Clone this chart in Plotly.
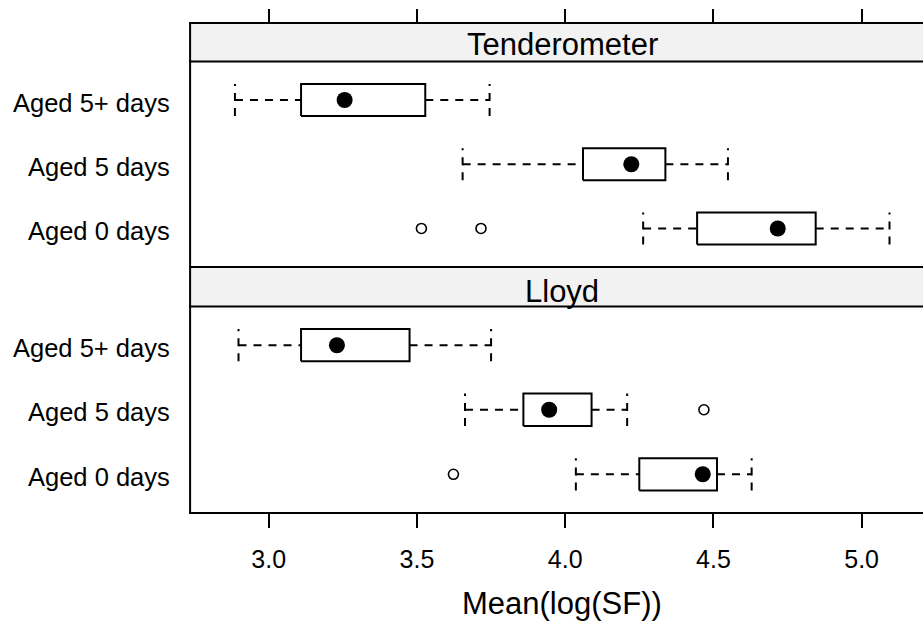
import plotly.graph_objects as go

# ---------------- data ----------------
levels = ["Aged 0 days", "Aged 5 days", "Aged 5+ days"]   # bottom -> top
panels = ["Tenderometer", "Lloyd"]                          # top -> bottom

tend_lower = [4.263, 3.654, 2.886]
tend_q1 = [4.445, 4.060, 3.109]
tend_median = [4.717, 4.223, 3.256]
tend_q3 = [4.845, 4.338, 3.528]
tend_upper = [5.094, 4.549, 3.745]
tend_outliers = [[3.515, 3.716], [], []]

lloyd_lower = [4.036, 3.662, 2.898]
lloyd_q1 = [4.250, 3.859, 3.109]
lloyd_median = [4.464, 3.946, 3.230]
lloyd_q3 = [4.512, 4.089, 3.475]
lloyd_upper = [4.629, 4.209, 3.750]
lloyd_outliers = [[3.623], [4.468], []]

x_tickvals = [3.0, 3.5, 4.0, 4.5, 5.0]
x_ticktext = ["3.0", "3.5", "4.0", "4.5", "5.0"]
x_title = "Mean(log(SF))"

# ---------------- style ----------------
W, H = 923, 631
FONT = "Liberation Sans, Arial, Helvetica, sans-serif"
LW = 2
HALF = 0.25        # half box height (box.ratio)
DASH = "8px,7px"
STRIP_FILL = "#F2F2F2"
XRANGE = [2.731, 5.207]
XCENTER = (2.731 + 5.249) / 2   # centre of the full (cropped) panel


def py(px):
    return 1 - px / H


# panel geometry (pixels from top)
TOP_BORDER = 23
STRIP1_BOT = 61.5
MID = 267
STRIP2_BOT = 306.5
BOTTOM = 513

fig = go.Figure()


def add_panel(xa, ya, lower, q1, med, q3, upper, outliers):
    pos = list(range(1, len(levels) + 1))
    # boxes
    bx, by = [], []
    for p, a, b in zip(pos, q1, q3):
        bx += [a, b, b, a, a, None]
        by += [p - HALF, p - HALF, p + HALF, p + HALF, p - HALF, None]
    fig.add_trace(go.Scatter(x=bx, y=by, mode="lines", xaxis=xa, yaxis=ya,
                             line=dict(color="black", width=LW),
                             hoverinfo="skip", showlegend=False))
    # whiskers + caps (dashed)
    wx, wy = [], []
    for p, lo, a, b, hi in zip(pos, lower, q1, q3, upper):
        wx += [lo, a, None, b, hi, None]
        wy += [p, p, None, p, p, None]
        wx += [lo, lo, None, hi, hi, None]
        wy += [p - HALF, p + HALF, None, p - HALF, p + HALF, None]
    fig.add_trace(go.Scatter(x=wx, y=wy, mode="lines", xaxis=xa, yaxis=ya,
                             line=dict(color="black", width=LW, dash=DASH),
                             hoverinfo="skip", showlegend=False))
    # medians
    fig.add_trace(go.Scatter(x=med, y=pos, mode="markers", xaxis=xa, yaxis=ya,
                             marker=dict(symbol="circle", size=16, color="black"),
                             hoverinfo="skip", showlegend=False))
    # outliers
    ox, oy = [], []
    for p, outs in zip(pos, outliers):
        for v in outs:
            ox.append(v)
            oy.append(p)
    fig.add_trace(go.Scatter(x=ox, y=oy, mode="markers", xaxis=xa, yaxis=ya,
                             marker=dict(symbol="circle-open", size=10, color="black",
                                         line=dict(width=1.6, color="black")),
                             hoverinfo="skip", showlegend=False))


add_panel("x2", "y", tend_lower, tend_q1, tend_median, tend_q3, tend_upper, tend_outliers)
add_panel("x", "y2", lloyd_lower, lloyd_q1, lloyd_median, lloyd_q3, lloyd_upper, lloyd_outliers)

yaxis_common = dict(
    range=[0.4, len(levels) + 0.6],
    tickmode="array", tickvals=list(range(1, len(levels) + 1)), ticktext=levels,
    ticks="", showticklabels=False, showgrid=False, zeroline=False, showline=False,
    fixedrange=True,
)

fig.update_layout(
    width=W, height=H,
    margin=dict(l=189, r=0, t=0, b=0),
    paper_bgcolor="white", plot_bgcolor="white",
    showlegend=False,
    xaxis=dict(domain=[0, 1], anchor="y2", range=XRANGE,
               tickmode="array", tickvals=x_tickvals, ticktext=x_ticktext,
               ticks="outside", ticklen=14, tickwidth=LW, tickcolor="black",
               showgrid=False, zeroline=False, showline=False,
               tickfont=dict(family=FONT, size=25, color="black"),
               ticklabelstandoff=10),
    xaxis2=dict(domain=[0, 1], anchor="free", position=py(TOP_BORDER), side="top",
                matches="x", range=XRANGE,
                tickmode="array", tickvals=x_tickvals,
                ticks="outside", ticklen=14, tickwidth=LW, tickcolor="black",
                showticklabels=False, showgrid=False, zeroline=False, showline=False),
    yaxis=dict(domain=[py(MID), py(STRIP1_BOT)], anchor="x2", **yaxis_common),
    yaxis2=dict(domain=[py(BOTTOM), py(STRIP2_BOT)], anchor="x", **yaxis_common),
)

shapes = []
# strips
for top, bot in [(TOP_BORDER, STRIP1_BOT), (MID, STRIP2_BOT)]:
    shapes.append(dict(type="rect", xref="paper", yref="paper", x0=0, x1=1.05,
                       y0=py(bot), y1=py(top), fillcolor=STRIP_FILL,
                       line=dict(width=0), layer="below"))
# horizontal borders
for yy in [TOP_BORDER, STRIP1_BOT, MID, STRIP2_BOT, BOTTOM]:
    shapes.append(dict(type="line", xref="paper", yref="paper", x0=0, x1=1.05,
                       y0=py(yy), y1=py(yy), line=dict(color="black", width=LW)))
# left border
shapes.append(dict(type="line", xref="paper", yref="paper", x0=0.0015, x1=0.0015,
                   y0=py(BOTTOM), y1=py(TOP_BORDER), line=dict(color="black", width=LW)))
fig.update_layout(shapes=shapes)

annotations = []
# category labels (left of each panel)
for yref in ["y", "y2"]:
    for i, lab in enumerate(levels):
        annotations.append(dict(text=lab, xref="paper", yref=yref, x=0, y=i + 1,
                                xanchor="right", yanchor="middle", xshift=-17, yshift=-2.5,
                                showarrow=False,
                                font=dict(family=FONT, size=25.5, color="black")))
# strip labels
for name, ypix in [(panels[0], 44.3), (panels[1], 291.8)]:
    annotations.append(dict(text=name, xref="x", yref="paper", x=XCENTER,
                            y=py(ypix), xanchor="center", yanchor="middle",
                            showarrow=False,
                            font=dict(family=FONT, size=31, color="black")))
# x-axis title
annotations.append(dict(text=x_title, xref="x", yref="paper", x=XCENTER, y=py(603),
                        xanchor="center", yanchor="middle", showarrow=False,
                        font=dict(family=FONT, size=31, color="black")))
fig.update_layout(annotations=annotations)

fig.write_html("out.html")
